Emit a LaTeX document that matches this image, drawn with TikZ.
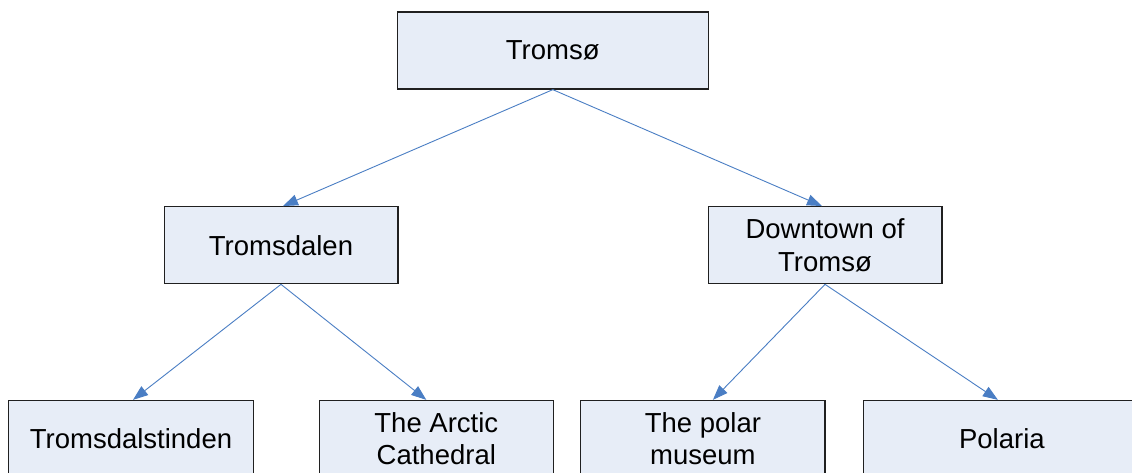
\documentclass[tikz,border=0pt]{standalone}
\usepackage{fontspec}
\setmainfont{Liberation Sans}
\usetikzlibrary{arrows.meta}
\definecolor{boxfill}{RGB}{231,237,247}
\definecolor{boxline}{RGB}{32,32,32}
\definecolor{linkblue}{RGB}{74,126,196}
\begin{document}
\begin{tikzpicture}[x=1pt,y=-1pt,
  place/.style={draw=boxline, fill=boxfill, line width=1.3pt, rectangle,
    inner sep=0pt, minimum height=77pt, align=center,
    font=\fontsize{27.5}{32.3}\selectfont},
  link/.style={draw=linkblue, line width=0.9pt,
    -{Triangle[length=15pt,width=11pt]}}]
\useasboundingbox (0,0) rectangle (1132,473);
\clip (0,0) rectangle (1132,473);
\fill[white] (0,0) rectangle (1132,473);

% top level
\node[place, minimum width=311pt] (city) at (552.8,50.5) {Troms\o};

% districts
\node[place, minimum width=233.7pt] (dal) at (281,245.2) {Tromsdalen};
\node[place, minimum width=233.7pt] (down) at (825,245.2) {Downtown of\\Troms\o};

% sights
\node[place, minimum width=245.4pt] (tind) at (131,439) {Tromsdalstinden};
\node[place, minimum width=234pt] (arct) at (436.3,439) {The Arctic\\Cathedral};
\node[place, minimum width=244.3pt] (polm) at (702.9,439) {The polar\\museum};
\node[place, minimum width=276.3pt] (pola) at (1001.9,439) {Polaria};

% connectors
\draw[link] (city.south) -- ([xshift=2pt]dal.north);
\draw[link] (city.south) -- ([xshift=-3pt]down.north);
\draw[link] (dal.south) -- ([xshift=2pt]tind.north);
\draw[link] (dal.south) -- ([xshift=-10pt]arct.north);
\draw[link] (down.south) -- ([xshift=10pt]polm.north);
\draw[link] (down.south) -- ([xshift=-4pt]pola.north);
\end{tikzpicture}
\end{document}
